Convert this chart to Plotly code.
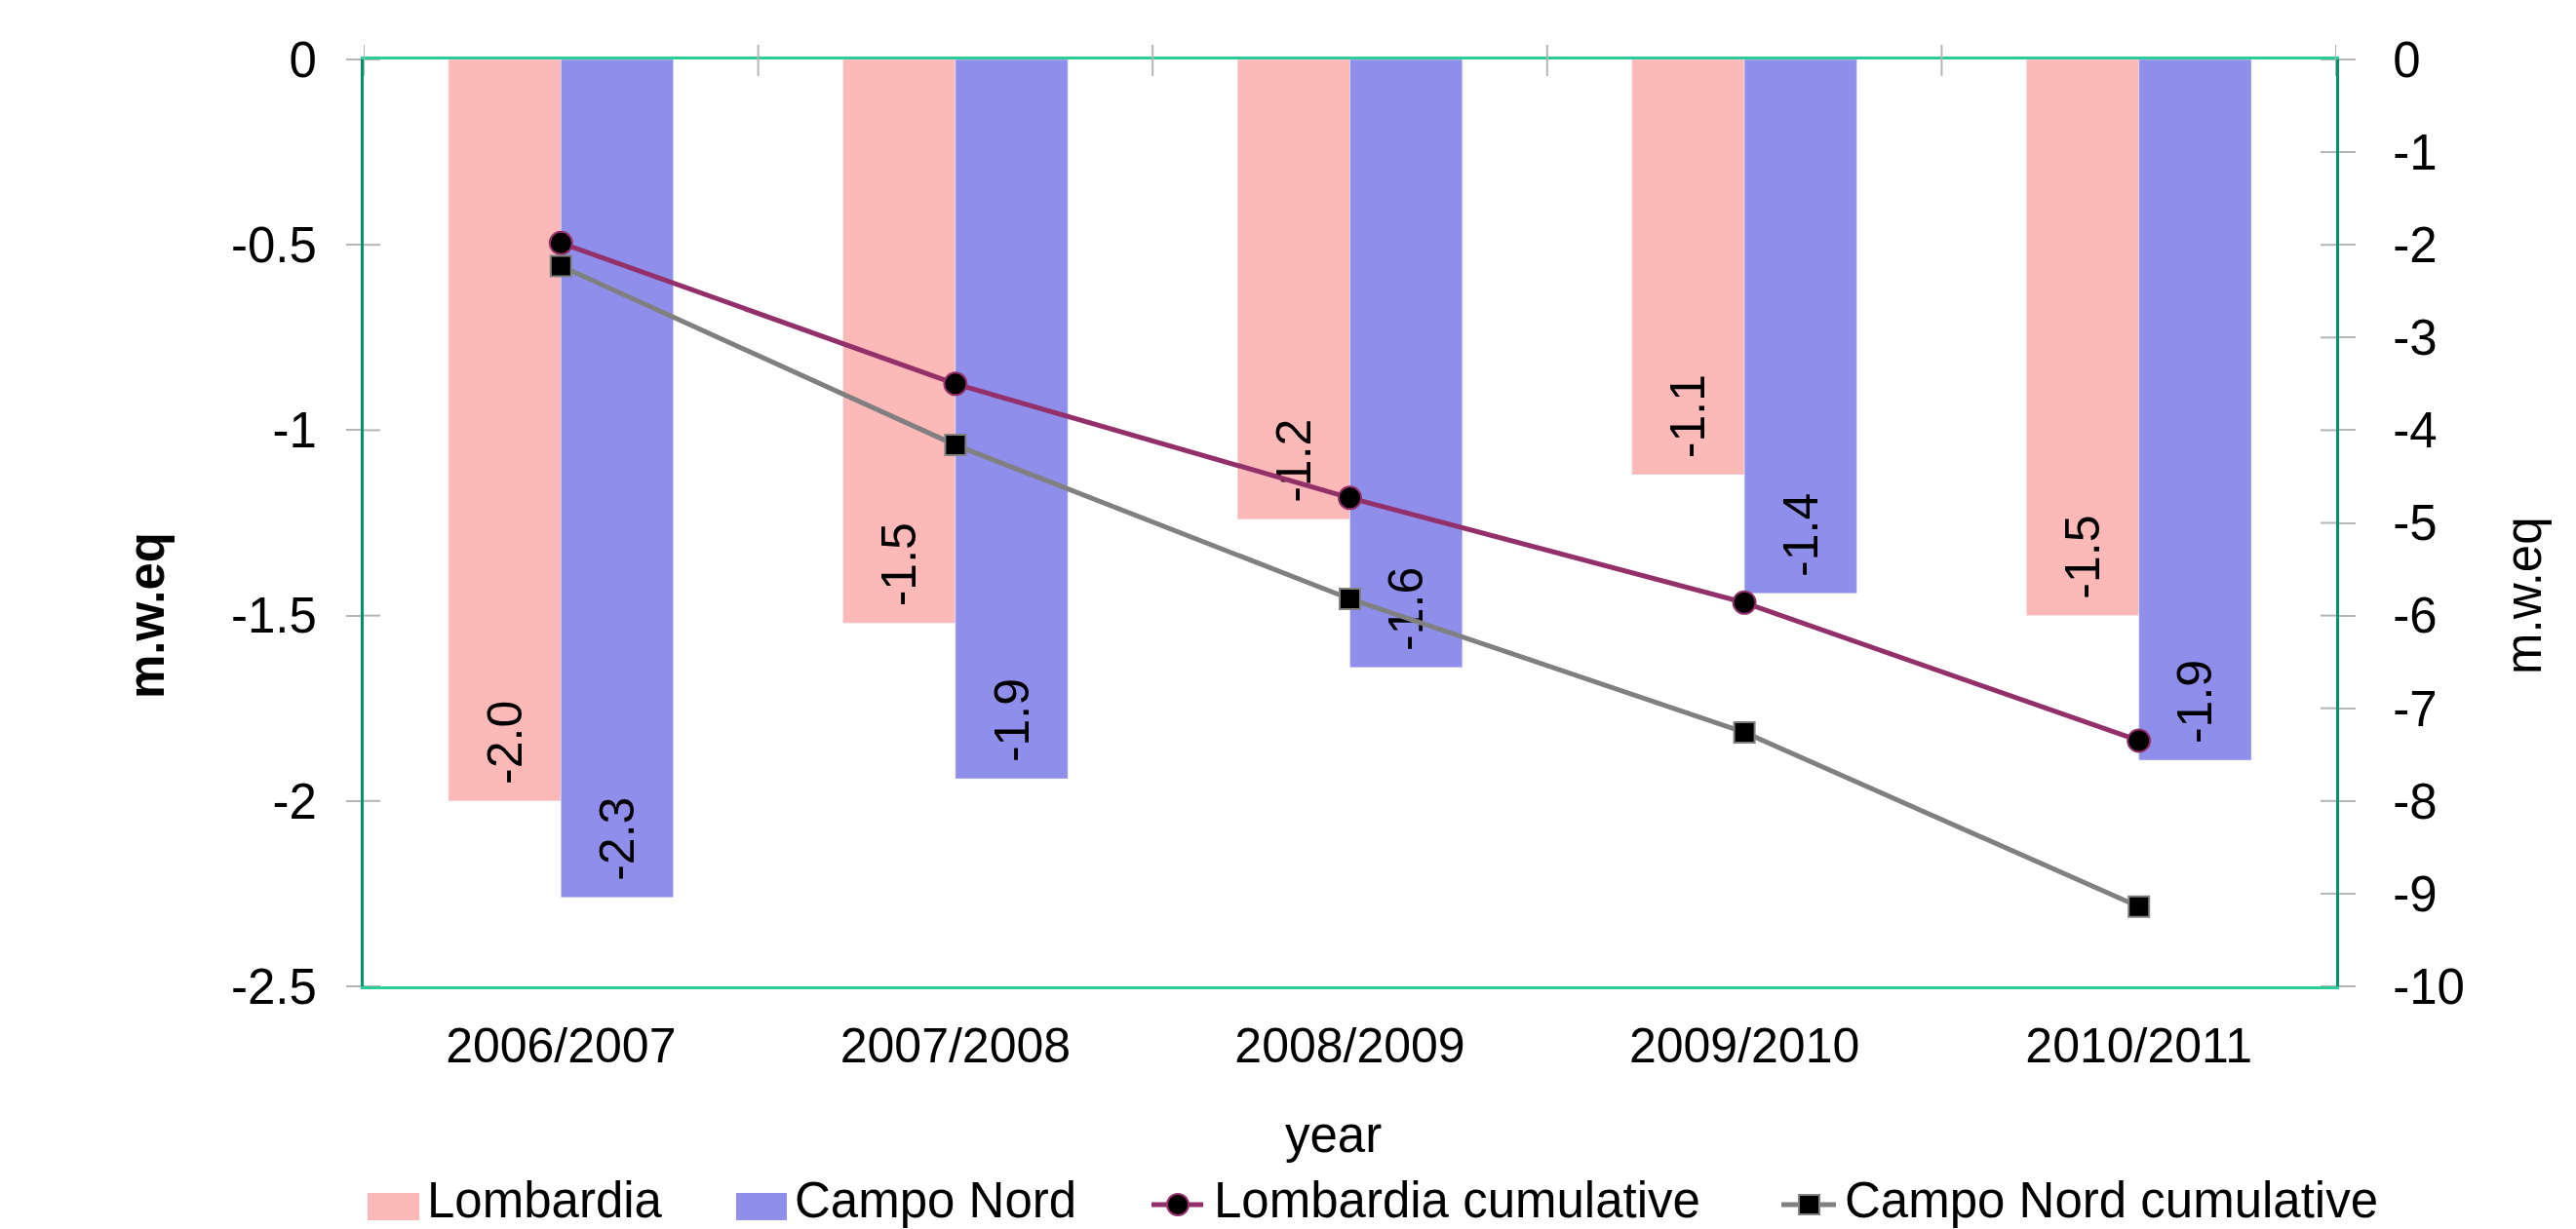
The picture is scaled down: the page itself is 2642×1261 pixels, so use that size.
import plotly.graph_objects as go

# ---------------- data ----------------
years = ["2006/2007", "2007/2008", "2008/2009", "2009/2010", "2010/2011"]
lombardia = [-2.00, -1.52, -1.24, -1.12, -1.50]
campo_nord = [-2.26, -1.94, -1.64, -1.44, -1.89]
lombardia_cum = [-1.98, -3.50, -4.73, -5.86, -7.35]
campo_nord_cum = [-2.23, -4.16, -5.82, -7.26, -9.14]
left_ticks = [0, -0.5, -1, -1.5, -2, -2.5]
right_ticks = [0, -1, -2, -3, -4, -5, -6, -7, -8, -9, -10]
series_names = ["Lombardia", "Campo Nord", "Lombardia cumulative", "Campo Nord cumulative"]

# ---------------- style ----------------
FONT = "Liberation Sans, Arial, sans-serif"
C_LOMB = "#FDB8B8"
C_CAMPO = "#8F8FEB"
C_LOMB_LINE = "#93306A"
C_CAMPO_LINE = "#808080"
C_AXIS = "#00936B"
C_FRAME = "#2CCB98"
C_TICK = "#B5B5B5"

W, H = 2642, 1261
L, T, R, B = 373, 61, 2396, 1012
PW, PH = R - L, B - T


def px_x(px):
    return (px - L) / PW


def px_y(py):
    return (B - py) / PH


def fmt(v):
    return f"{v:g}"


def bar_label(v):
    # leading no-break space keeps the label a little away from the bar tip
    return "\u00a0" + f"{v:.1f}"


fig = go.Figure()

fig.add_trace(go.Bar(
    x=years, y=lombardia, name=series_names[0], marker_color=C_LOMB,
    text=[bar_label(v) for v in lombardia], textposition="inside",
    insidetextanchor="end", textangle=-90, constraintext="none",
    textfont=dict(family=FONT, size=50, color="black"), showlegend=False,
    yaxis="y"))
fig.add_trace(go.Bar(
    x=years, y=campo_nord, name=series_names[1], marker_color=C_CAMPO,
    text=[bar_label(v) for v in campo_nord], textposition="inside",
    insidetextanchor="end", textangle=-90, constraintext="none",
    textfont=dict(family=FONT, size=50, color="black"), showlegend=False,
    yaxis="y"))
fig.add_trace(go.Scatter(
    x=years, y=lombardia_cum, name=series_names[2], mode="lines+markers",
    line=dict(color=C_LOMB_LINE, width=5),
    marker=dict(symbol="circle", size=23, color="black",
                line=dict(color=C_LOMB_LINE, width=2)),
    showlegend=False, yaxis="y2"))
fig.add_trace(go.Scatter(
    x=years, y=campo_nord_cum, name=series_names[3], mode="lines+markers",
    line=dict(color=C_CAMPO_LINE, width=5),
    marker=dict(symbol="square", size=21, color="black",
                line=dict(color=C_CAMPO_LINE, width=2)),
    showlegend=False, yaxis="y2"))

shapes = []
# inner halves of crossing ticks
for v in left_ticks:
    shapes.append(dict(type="line", xref="paper", yref="y", x0=0, x1=17 / PW,
                       y0=v, y1=v, line=dict(color=C_TICK, width=2), layer="above"))
for v in right_ticks:
    shapes.append(dict(type="line", xref="paper", yref="y2", x0=1 - 16 / PW, x1=1,
                       y0=v, y1=v, line=dict(color=C_TICK, width=2), layer="above"))
for i in range(len(years) + 1):
    shapes.append(dict(type="line", xref="x", yref="paper", x0=i - 0.5, x1=i - 0.5,
                       y0=1 - 17 / PH, y1=1 + 15 / PH,
                       line=dict(color=C_TICK, width=2), layer="above"))

# custom legend
LEG_CY = 1236
TXT_CY = 1231
LEG_SIZE = 51
annotations = []
for (x0, x1, col, tx, name) in [(377, 430, C_LOMB, 437, series_names[0]),
                                (755, 807, C_CAMPO, 814, series_names[1])]:
    shapes.append(dict(type="rect", xref="paper", yref="paper",
                       x0=px_x(x0), x1=px_x(x1), y0=px_y(1252), y1=px_y(1224),
                       fillcolor=col, line=dict(width=0)))
    annotations.append(dict(xref="paper", yref="paper", x=px_x(tx), y=px_y(TXT_CY),
                            xanchor="left", yanchor="middle", text=name, showarrow=False,
                            borderpad=0,
                            font=dict(family=FONT, size=LEG_SIZE, color="black")))
shapes.append(dict(type="line", xref="paper", yref="paper", x0=px_x(1181), x1=px_x(1234),
                   y0=px_y(LEG_CY), y1=px_y(LEG_CY), line=dict(color=C_LOMB_LINE, width=5)))
shapes.append(dict(type="circle", xref="paper", yref="paper", x0=px_x(1197), x1=px_x(1219),
                   y0=px_y(LEG_CY + 11), y1=px_y(LEG_CY - 11), fillcolor="black",
                   line=dict(color=C_LOMB_LINE, width=2)))
annotations.append(dict(xref="paper", yref="paper", x=px_x(1244), y=px_y(TXT_CY),
                        xanchor="left", yanchor="middle", text=series_names[2], showarrow=False,
                        borderpad=0,
                        font=dict(family=FONT, size=LEG_SIZE, color="black")))
shapes.append(dict(type="line", xref="paper", yref="paper", x0=px_x(1827), x1=px_x(1883),
                   y0=px_y(LEG_CY), y1=px_y(LEG_CY), line=dict(color=C_CAMPO_LINE, width=5)))
shapes.append(dict(type="rect", xref="paper", yref="paper", x0=px_x(1845), x1=px_x(1866),
                   y0=px_y(LEG_CY + 10), y1=px_y(LEG_CY - 10), fillcolor="black",
                   line=dict(color=C_CAMPO_LINE, width=2)))
annotations.append(dict(xref="paper", yref="paper", x=px_x(1891), y=px_y(TXT_CY),
                        xanchor="left", yanchor="middle", text=series_names[3], showarrow=False,
                        borderpad=0,
                        font=dict(family=FONT, size=LEG_SIZE, color="black")))

# axis titles
annotations.append(dict(xref="paper", yref="paper", x=px_x(150), y=px_y(632),
                        xanchor="center", yanchor="middle", text="<b>m.w.eq</b>", textangle=-90,
                        showarrow=False, font=dict(family=FONT, size=51, color="black")))
annotations.append(dict(xref="paper", yref="paper", x=px_x(2588), y=px_y(611),
                        xanchor="center", yanchor="middle", text="m.w.eq", textangle=-90,
                        showarrow=False, font=dict(family=FONT, size=51, color="black")))
annotations.append(dict(xref="paper", yref="paper", x=px_x(1367), y=px_y(1164),
                        xanchor="center", yanchor="middle", text="year",
                        showarrow=False, font=dict(family=FONT, size=51, color="black")))

fig.update_layout(
    width=W, height=H,
    margin=dict(l=L, r=W - R, t=T, b=H - B, pad=0),
    paper_bgcolor="white", plot_bgcolor="white",
    barmode="group", bargap=0.43, bargroupgap=0,
    font=dict(family=FONT, size=51, color="black"),
    showlegend=False,
    xaxis=dict(type="category", categoryorder="array", categoryarray=years,
               range=[-0.5, len(years) - 0.5],
               showline=True, linecolor=C_FRAME, linewidth=3, mirror=True,
               ticks="", showgrid=False, zeroline=False,
               tickfont=dict(family=FONT, size=50), ticklabelstandoff=15),
    yaxis=dict(range=[-2.5, 0], tickvals=left_ticks, ticktext=[fmt(v) for v in left_ticks],
               showline=True, linecolor=C_AXIS, linewidth=3,
               ticks="outside", ticklen=15, tickwidth=2, tickcolor=C_TICK,
               showgrid=False, zeroline=False, ticklabelstandoff=20,
               tickfont=dict(family=FONT, size=51)),
    yaxis2=dict(range=[-10, 0], tickvals=right_ticks, ticktext=[fmt(v) for v in right_ticks],
                overlaying="y", side="right",
                showline=True, linecolor=C_AXIS, linewidth=3,
                ticks="outside", ticklen=17, tickwidth=2, tickcolor=C_TICK,
                showgrid=False, zeroline=False, ticklabelstandoff=28,
                tickfont=dict(family=FONT, size=51)),
    shapes=shapes,
    annotations=annotations,
)

fig.write_html("out.html", config={"displayModeBar": False},
               post_script="document.body.style.margin='0';document.body.style.overflow='hidden';")
